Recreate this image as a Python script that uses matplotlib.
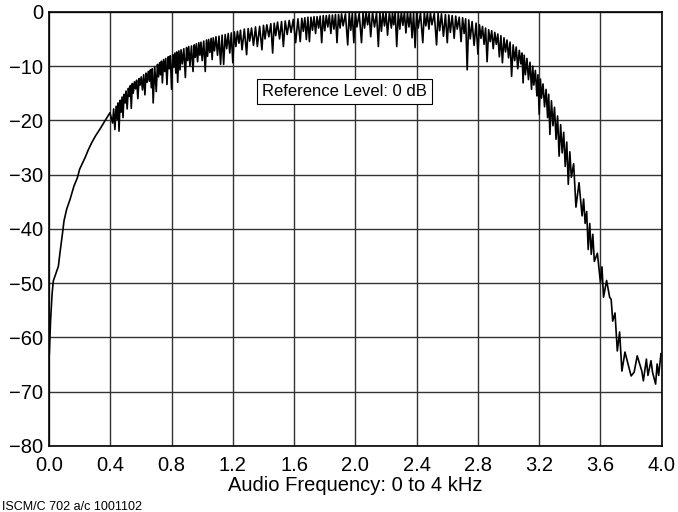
import numpy as np
import matplotlib
matplotlib.use("Agg")
import matplotlib.pyplot as plt

plt.rcParams['font.family'] = ['Liberation Sans', 'DejaVu Sans']

# smooth low-frequency rise (kHz, dB)
rise_f = [0.002, 0.010, 0.020, 0.028, 0.045, 0.061, 0.072, 0.085, 0.098, 0.115,
          0.137, 0.163, 0.185, 0.200, 0.235, 0.257, 0.279, 0.305, 0.333, 0.365, 0.398]
rise_db = [-63.0, -57.0, -52.0, -49.6, -48.2, -46.9, -44.3, -41.5, -38.5, -36.4,
           -34.6, -32.1, -30.6, -29.0, -26.9, -25.4, -24.1, -22.8, -21.6, -20.1, -18.6]

# upper trace of the comb region
top_f = [0.422, 0.438, 0.451, 0.464, 0.477, 0.490, 0.503, 0.518, 0.531, 0.544,
         0.558, 0.572, 0.588, 0.602, 0.618, 0.633, 0.648, 0.662, 0.674, 0.690,
         0.708, 0.722, 0.734, 0.748, 0.762, 0.778, 0.792, 0.808, 0.822, 0.834,
         0.848, 0.862, 0.880, 0.898, 0.912, 0.930, 0.948, 0.962, 0.978, 0.992,
         1.010, 1.028, 1.042, 1.058, 1.072, 1.090, 1.110, 1.130, 1.150, 1.170,
         1.190, 1.210, 1.230, 1.250, 1.275, 1.300, 1.322, 1.348, 1.375, 1.400,
         1.422, 1.448, 1.470, 1.492, 1.518, 1.542, 1.568, 1.595, 1.625, 1.650,
         1.670, 1.690, 1.710, 1.730, 1.750, 1.770, 1.790, 1.810, 1.830, 1.850,
         1.870, 1.890, 1.910, 1.935, 1.960, 1.980, 2.000, 2.025, 2.050, 2.070,
         2.090, 2.112, 2.138, 2.160, 2.180, 2.200, 2.222, 2.242, 2.260, 2.280,
         2.300, 2.320, 2.340, 2.360, 2.380, 2.400, 2.425, 2.450, 2.470, 2.490,
         2.515, 2.540, 2.562, 2.588, 2.610, 2.632, 2.655, 2.678, 2.700, 2.720,
         2.740, 2.762, 2.788, 2.810, 2.830, 2.850, 2.870, 2.890, 2.910, 2.930,
         2.950, 2.970, 2.990, 3.010, 3.030, 3.050, 3.070, 3.088, 3.102, 3.120,
         3.140, 3.158, 3.175, 3.192, 3.208, 3.225, 3.245, 3.262, 3.280, 3.300,
         3.320, 3.340, 3.360, 3.380, 3.400, 3.425, 3.460, 3.490, 3.510, 3.530,
         3.550, 3.580, 3.610, 3.640, 3.670, 3.695, 3.725]
top_db = [-17.9, -17.4, -16.8, -16.3, -15.7, -15.2, -14.6, -14.1, -13.6, -13.2,
          -12.9, -12.6, -12.3, -12.0, -11.6, -11.3, -11.0, -10.7, -10.5, -10.1,
          -9.7, -9.4, -9.1, -8.8, -8.6, -8.3, -8.1, -7.9, -7.6, -7.4,
          -7.2, -7.0, -6.8, -6.6, -6.4, -6.3, -6.1, -5.9, -5.7, -5.6,
          -5.4, -5.2, -5.1, -4.9, -4.8, -4.6, -4.5, -4.3, -4.2, -4.0,
          -3.9, -3.7, -3.6, -3.4, -3.2, -3.1, -3.0, -2.8, -2.7, -2.5,
          -2.4, -2.2, -2.1, -1.9, -1.8, -1.7, -1.6, -1.4, -1.3, -1.2,
          -1.1, -1.0, -1.0, -0.9, -0.9, -0.8, -0.7, -0.7, -0.6, -0.6,
          -0.5, -0.5, -0.4, -0.4, -0.3, -0.3, -0.2, -0.3, -0.2, -0.1,
          -0.2, -0.1, -0.2, -0.1, -0.1, -0.2, -0.1, -0.2, -0.1, -0.2,
          -0.1, -0.1, -0.2, -0.1, -0.2, -0.1, -0.2, -0.2, -0.3, -0.2,
          -0.3, -0.3, -0.4, -0.5, -0.6, -0.7, -0.8, -1.0, -1.1, -1.3,
          -1.5, -1.8, -2.1, -2.4, -2.7, -3.0, -3.3, -3.5, -3.8, -4.1,
          -4.4, -4.8, -5.2, -5.6, -6.1, -6.5, -7.1, -7.6, -8.0, -8.6,
          -9.3, -10.0, -10.8, -11.6, -12.4, -13.3, -14.3, -15.2, -16.4, -17.6,
          -19.2, -20.8, -22.2, -24.0, -25.8, -28.0, -31.5, -34.5, -36.8, -39.0,
          -41.0, -44.5, -47.0, -49.5, -53.0, -55.5, -59.0]

# notch bottoms of the comb region
dip_f = [0.415, 0.430, 0.445, 0.457, 0.470, 0.483, 0.497, 0.510, 0.525, 0.537,
         0.550, 0.565, 0.580, 0.595, 0.610, 0.626, 0.640, 0.655, 0.668, 0.680,
         0.700, 0.715, 0.728, 0.740, 0.755, 0.770, 0.785, 0.800, 0.815, 0.828,
         0.840, 0.855, 0.870, 0.890, 0.905, 0.920, 0.940, 0.955, 0.970, 0.985,
         1.000, 1.020, 1.035, 1.050, 1.065, 1.080, 1.100, 1.120, 1.140, 1.160,
         1.180, 1.200, 1.220, 1.240, 1.260, 1.290, 1.310, 1.335, 1.360, 1.390,
         1.410, 1.435, 1.460, 1.480, 1.505, 1.530, 1.555, 1.580, 1.610, 1.640,
         1.660, 1.680, 1.700, 1.720, 1.740, 1.760, 1.780, 1.800, 1.820, 1.840,
         1.860, 1.880, 1.900, 1.920, 1.950, 1.970, 1.990, 2.010, 2.040, 2.060,
         2.080, 2.100, 2.125, 2.150, 2.170, 2.190, 2.210, 2.235, 2.250, 2.270,
         2.290, 2.310, 2.330, 2.350, 2.370, 2.390, 2.410, 2.440, 2.460, 2.480,
         2.500, 2.530, 2.550, 2.575, 2.600, 2.620, 2.645, 2.665, 2.690, 2.710,
         2.730, 2.750, 2.775, 2.800, 2.820, 2.840, 2.860, 2.880, 2.900, 2.920,
         2.940, 2.960, 2.980, 3.000, 3.020, 3.040, 3.060, 3.080, 3.095, 3.110,
         3.130, 3.150, 3.165, 3.185, 3.200, 3.215, 3.235, 3.255, 3.270, 3.290,
         3.310, 3.330, 3.350, 3.370, 3.390, 3.410, 3.440, 3.480, 3.500, 3.520,
         3.540, 3.560, 3.600, 3.620, 3.660, 3.680, 3.710, 3.740]
dip_db = [-20.5, -21.7, -19.8, -22.0, -18.5, -19.5, -16.8, -17.9, -15.6, -17.8,
          -15.0, -14.2, -16.0, -13.5, -14.4, -15.3, -13.0, -12.8, -14.0, -16.8,
          -14.7, -12.0, -11.6, -13.1, -11.0, -13.4, -10.5, -14.3, -10.2, -11.3,
          -13.0, -10.7, -9.6, -12.1, -9.0, -10.0, -11.0, -8.4, -9.2, -8.0,
          -9.0, -11.0, -8.2, -7.5, -8.8, -7.2, -8.0, -9.7, -9.7, -6.8,
          -7.6, -9.4, -6.4, -5.8, -7.0, -7.9, -5.4, -6.2, -6.4, -7.0,
          -5.0, -4.6, -7.6, -4.4, -5.0, -6.4, -4.2, -3.8, -5.7, -5.5,
          -3.6, -5.1, -5.5, -3.4, -4.0, -3.0, -5.7, -3.5, -2.8, -4.0,
          -3.2, -5.7, -3.0, -2.6, -6.1, -3.4, -5.7, -2.8, -5.7, -3.0,
          -2.4, -4.6, -2.8, -6.4, -3.6, -2.6, -4.3, -3.0, -2.4, -6.4,
          -3.2, -2.5, -3.9, -2.8, -4.8, -6.6, -3.0, -5.7, -2.6, -3.2,
          -2.4, -6.1, -3.5, -4.5, -5.7, -3.8, -4.9, -3.2, -5.5, -4.0,
          -10.7, -5.0, -6.2, -7.8, -4.9, -6.0, -9.2, -5.5, -6.8, -6.0,
          -8.3, -9.4, -7.4, -8.5, -11.9, -9.0, -10.5, -9.6, -13.1, -11.6,
          -12.5, -14.3, -13.5, -15.5, -18.9, -15.9, -17.5, -19.5, -22.6, -21.0,
          -23.5, -26.6, -26.0, -28.5, -31.8, -30.5, -36.0, -37.6, -39.0, -43.8,
          -44.7, -46.0, -49.9, -52.6, -52.6, -57.0, -62.5, -66.2]

# noise floor above 3.75 kHz
floor_f = [3.760, 3.780, 3.800, 3.820, 3.840, 3.870, 3.880, 3.900, 3.910,
           3.930, 3.940, 3.960, 3.970, 3.980, 3.995]
floor_db = [-62.7, -64.9, -67.1, -66.4, -63.4, -66.2, -68.0, -64.0, -67.0,
            -64.3, -66.4, -68.6, -64.9, -67.0, -63.0]

freq = np.concatenate([rise_f, top_f, dip_f, floor_f])
level = np.concatenate([rise_db, top_db, dip_db, floor_db])
order = np.argsort(freq, kind='stable')
freq, level = freq[order], level[order]

fig = plt.figure(figsize=(6.78, 5.12), dpi=100)
ax = fig.add_axes([0.0723, 0.129, 0.9037, 0.848])
ax.plot(freq, level, color='black', lw=1.2)

ax.set_xlim(0, 4.0)
ax.set_ylim(-80, 0)
ax.set_xticks(np.arange(0, 4.01, 0.4))
ax.set_xticklabels(['%.1f' % v for v in np.arange(0, 4.01, 0.4)])
ax.set_yticks(np.arange(-80, 1, 10))
ax.tick_params(length=0, labelsize=14.5, pad=4)
ax.tick_params(axis='x', pad=7)
ax.grid(True, color='0.2', lw=1.0)
for s in ax.spines.values():
    s.set_linewidth(1.2)
ax.set_xlabel('Audio Frequency: 0 to 4 kHz', fontsize=14.5, labelpad=1)

ax.text(1.93, -14.7, 'Reference Level: 0 dB', fontsize=12, ha='center', va='center',
        bbox=dict(boxstyle='square,pad=0.3', fc='white', ec='black', lw=0.8))

fig.text(0.003, 0.022, 'ISCM/C 702 a/c 1001102', fontsize=9, va='top', ha='left')

plt.savefig('out.png', dpi=100)
